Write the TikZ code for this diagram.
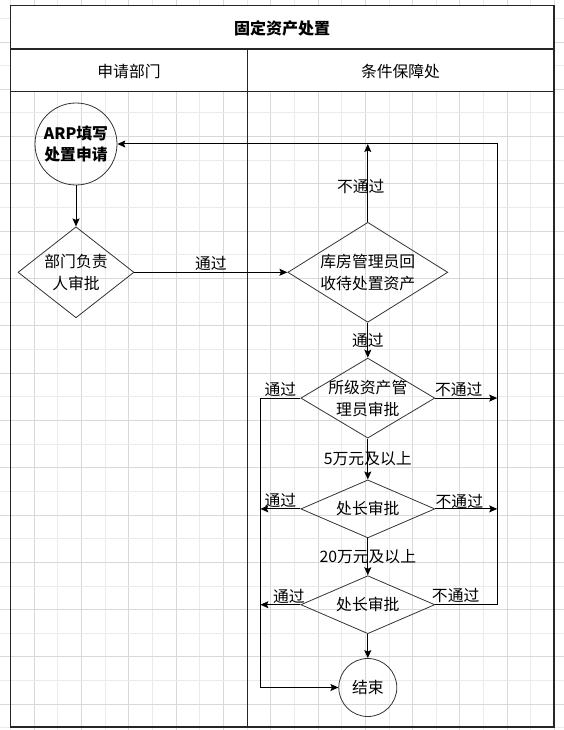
\documentclass[tikz,border=0pt]{standalone}
\usepackage{fontspec}
\setmainfont{Noto Sans CJK SC}
\usepackage{xcolor}
\usetikzlibrary{arrows.meta,positioning,calc,shapes.geometric}
\definecolor{gridmajor}{HTML}{D9D9D9}
\definecolor{gridminor}{HTML}{EBEBEB}
\definecolor{edge}{HTML}{333333}

\begin{document}
\begin{tikzpicture}[
  x=1pt, y=-1pt,
  font=\fontsize{15.8}{22}\selectfont,
  term/.style={draw=edge, circle, align=center, inner sep=0pt, line width=0.8pt},
  dec/.style={draw=edge, diamond, align=center, inner sep=-15pt, line width=0.8pt},
  lbl/.style={inner sep=1pt},
  arr/.style={-{Stealth[length=8pt, width=7pt, inset=1.5pt]}, line width=1pt},
  pool/.style={draw=black!85, line width=1pt},
]
\useasboundingbox (0,0) rectangle (564,730);
\foreach \i in {0,2,...,22} \draw[gridminor, line width=0.8pt] ({10.5+23.65*\i},0) -- ({10.5+23.65*\i},730);
\foreach \i in {1,3,...,23} \draw[gridmajor, line width=0.8pt] ({10.5+23.65*\i},0) -- ({10.5+23.65*\i},730);
\foreach \j in {0,2,...,30} \draw[gridminor, line width=0.8pt] (0,{18.3+23.65*\j}) -- (564,{18.3+23.65*\j});
\foreach \j in {1,3,...,29} \draw[gridmajor, line width=0.8pt] (0,{18.3+23.65*\j}) -- (564,{18.3+23.65*\j});
\fill[white] (10.5,6) rectangle (554,92);
\draw[pool] (10.5,6) rectangle (554,727);
\draw[pool, line width=1.6pt] (554,6) -- (554,727) -- (10.5,727);
\draw[pool, line width=2pt] (10.5,49) -- (554,49);
\draw[pool] (10.5,92) -- (554,92);
\draw[pool] (247,49) -- (247,727);
\node[font=\fontsize{16}{20}\selectfont\bfseries] (title) at (282,28) {固定资产处置};
\node (laneA) at (129,71) {申请部门};
\node (laneB) at (400.5,71) {条件保障处};

\node[term, minimum size=82pt, font=\fontsize{15.8}{21}\selectfont\bfseries] (arp) at (76,144) {ARP填写\\处置申请};
\node[dec, minimum width=116pt, minimum height=91pt, below=41pt of arp] (dept) {部门负责\\人审批};
\node[dec, minimum width=160pt, minimum height=100pt, right=153pt of dept] (store) {库房管理员回\\收待处置资产};
\node[dec, minimum width=134pt, minimum height=80pt, below=35pt of store] (level) {所级资产管\\理员审批};
\node[dec, minimum width=134pt, minimum height=58pt, below=41pt of level] (chief1) {处长审批};
\node[dec, minimum width=134pt, minimum height=58pt, below=37pt of chief1] (chief2) {处长审批};
\node[term, minimum size=58pt, below=24pt of chief2] (finish) {结束};
\coordinate (bus) at ($(store.east)+(49pt,0)$);
\coordinate (lbus) at ($(level.west)+(-40pt,0)$);

\draw[arr] (arp) -- (dept);
\draw[arr] (dept) -- node[above, lbl] {通过} (store);
\draw[arr] (store.north) -- node[pos=0.45, xshift=-7pt] {不通过} (store.north |- arp.east);
\draw[arr] (store) -- node {通过} (level);
\draw[arr] (level) -- node {5万元及以上} (chief1);
\draw[arr] (chief1) -- node {20万元及以上} (chief2);
\draw[arr] (chief2) -- (finish);
\draw[arr] (level.west) -- node[above, lbl] {通过} (level.west -| lbus) -- (lbus |- finish.west) -- (finish.west);
\draw[arr] (chief1.west) -- node[above, lbl] {通过} (chief1.west -| lbus);
\draw[arr] (chief2.west) -- node[above, pos=0.29, lbl] {通过} (chief2.west -| lbus);
\draw[arr] (level.east) -- node[above, pos=0.38, lbl] {不通过} (level.east -| bus);
\draw[arr] (chief1.east) -- node[above, pos=0.39, inner sep=0pt] {不通过} (chief1.east -| bus);
\draw[arr] (chief2.east) -- node[above, pos=0.33, lbl] {不通过} (chief2.east -| bus) -- (bus |- arp.east) -- (arp.east);
\end{tikzpicture}
\end{document}
